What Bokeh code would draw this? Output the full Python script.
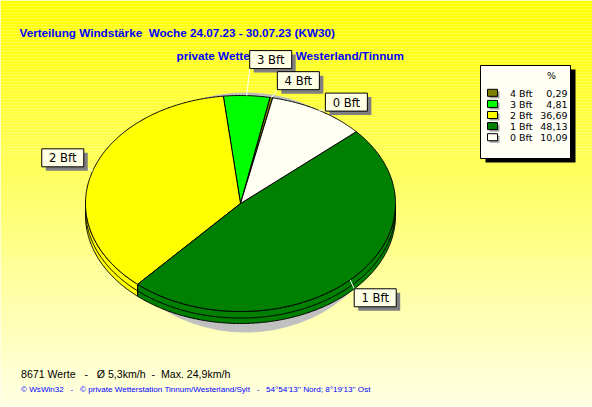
import numpy as np
from bokeh.plotting import figure
from bokeh.models import Range1d
from bokeh.core.properties import value
from bokeh.embed import file_html
from bokeh.resources import INLINE

# ---------------- data ----------------
categories = ["4 Bft", "3 Bft", "2 Bft", "1 Bft", "0 Bft"]
percent = [0.29, 4.81, 36.69, 48.13, 10.09]
percent_labels = ["0,29", "4,81", "36,69", "48,13", "10,09"]
colors = ["#808000", "#00FF00", "#FFFF00", "#008000", "#FFFFF4"]
title1 = "Verteilung Windstärke  Woche 24.07.23 - 30.07.23 (KW30)"
title2 = "private Wetterstation Westerland/Tinnum"
footer1 = "8671 Werte   -   Ø 5,3km/h  -  Max. 24,9km/h"
footer2 = "© WsWin32   -   © private Wetterstation Tinnum/Westerland/Sylt   -   54°54'13'' Nord; 8°19'13'' Ost"
legend_header = "%"


def keep_spaces(s):
    # keep runs of spaces visible in SVG text
    return s.replace("  ", "\u00a0\u00a0").replace("\u00a0 ", "\u00a0\u00a0")


# ---------------- layout ----------------
W, H = 592, 407
CX, CY = 240, 203
RX, RY = 155, 108
DEPTH = 12
START = 78.0
# label box offsets (left, top) relative to slice mid-point on the rim
label_offsets = [(6, -26), (3, -45), (-51, -22), (4, 9), (7, -17)]
BOX_W, BOX_H = 42, 18
FONT = "Liberation Sans"
LFONT = "DejaVu Sans"

p = figure(width=W, height=H, output_backend="svg", toolbar_location=None,
           x_range=Range1d(0, W), y_range=Range1d(H, 0), min_border=0)
p.axis.visible = False
p.grid.visible = False
p.outline_line_color = None
p.background_fill_color = "#FFFFE4"
p.border_fill_color = "#FFFFE4"

# background gradient (yellow -> pale yellow)
n_strip = 136
edges = np.linspace(0, H, n_strip + 1)
cols = []
for i in range(n_strip):
    yref = (edges[i] + edges[i + 1]) / 2
    b = int(round(228 * yref / 407))
    cols.append("#%02X%02X%02X" % (255, 255, b))
p.quad(left=0, right=W, top=edges[:-1], bottom=edges[1:], fill_color=cols, line_color=None)

# titles (drawn below the label boxes)
p.text(x=[19], y=[32], text=[keep_spaces(title1)], text_font=value(FONT), text_font_style="bold",
       text_font_size=value("11.7px"), text_color="#0000FF", text_baseline="alphabetic")
p.text(x=[176], y=[55], text=[keep_spaces(title2)], text_font=value(FONT), text_font_style="bold",
       text_font_size=value("11.7px"), text_color="#0000FF", text_baseline="alphabetic")


def rim(t_deg, dy=0.0):
    t = np.radians(t_deg)
    return CX + RX * np.cos(t), CY - RY * np.sin(t) + dy


# slice angles
fr = np.array(percent) / sum(percent) * 360.0
a_start = START + np.concatenate([[0], np.cumsum(fr)[:-1]])
a_end = a_start + fr

# shadow
p.ellipse(x=[245], y=[212], width=[280], height=[240],
          fill_color="#C0C0C0", line_color=None)

# sides (front half: 180..360)
sx, sy, scol = [], [], []
for a, b, c in zip(a_start, a_end, colors):
    lo, hi = max(a, 180.0), min(b, 360.0)
    if hi > lo:
        t = np.linspace(lo, hi, max(3, int((hi - lo) * 2)))
        x1, y1 = rim(t)
        x2, y2 = rim(t[::-1], DEPTH)
        sx.append(list(np.concatenate([x1, x2])))
        sy.append(list(np.concatenate([y1, y2])))
        scol.append(c)
p.patches(xs=sx, ys=sy, fill_color=scol, line_color="black", line_width=1)
# middle line on the side
t = np.linspace(180, 360, 360)
x1, y1 = rim(t, DEPTH * 0.55)
p.line(x=x1, y=y1, line_color="black", line_width=1)

# top faces
tx, ty = [], []
for a, b in zip(a_start, a_end):
    t = np.linspace(a, b, max(3, int((b - a) * 2)))
    x1, y1 = rim(t)
    tx.append([CX] + list(x1))
    ty.append([CY] + list(y1))
p.patches(xs=tx, ys=ty, fill_color=colors, line_color="black", line_width=1)

# labels with leader lines
mid = (a_start + a_end) / 2
mx, my = rim(mid)
bl = mx + np.array([o[0] for o in label_offsets])
bt = my + np.array([o[1] for o in label_offsets])
br = bl + BOX_W
bb = bt + BOX_H
ex = np.clip(mx, bl, br)
ey = np.clip(my, bt, bb)
p.segment(x0=mx, y0=my, x1=ex, y1=ey, line_color="white", line_width=1)
p.quad(left=bl + 4, right=br + 4, top=bt + 4, bottom=bb + 4, fill_color="#808080", line_color=None)
p.quad(left=bl, right=br, top=bt, bottom=bb, fill_color="#FFFFE6", line_color="black", line_width=1)
p.text(x=(bl + br) / 2, y=(bt + bb) / 2 + 0.5, text=categories, text_font=value(LFONT),
       text_font_size=value("11.6px"), text_color="black", text_align="center", text_baseline="middle")

# legend
LX0, LX1, LY0, LY1 = 480, 570, 65, 158
p.quad(left=LX0 + 5, right=LX1 + 5, top=LY0 + 4, bottom=LY1 + 4, fill_color="black", line_color=None)
p.quad(left=LX0, right=LX1, top=LY0, bottom=LY1, fill_color="#FFFFF6", line_color="black", line_width=1)
p.text(x=[551], y=[75], text=[legend_header], text_font=value(LFONT),
       text_font_size=value("9.5px"), text_color="black", text_align="center", text_baseline="middle")
rows = 92.3 + np.arange(len(categories)) * 11.1
p.quad(left=487 + 2, right=497 + 2, top=rows - 3.5 + 2, bottom=rows + 3.5 + 2,
       fill_color="#A0A0A0", line_color=None)
p.quad(left=487, right=497, top=rows - 3.5, bottom=rows + 3.5,
       fill_color=colors, line_color="black", line_width=1)
p.text(x=509.5, y=rows + 0.5, text=categories, text_font=value(LFONT),
       text_font_size=value("9.5px"), text_color="black", text_align="left", text_baseline="middle")
p.text(x=567, y=rows + 0.5, text=percent_labels, text_font=value(LFONT),
       text_font_size=value("9.5px"), text_color="black", text_align="right", text_baseline="middle")

# footers
p.text(x=[20.5], y=[373], text=[keep_spaces(footer1)], text_font=value(FONT),
       text_font_size=value("10.6px"), text_color="black", text_baseline="alphabetic")
p.text(x=[20.5], y=[388.5], text=[keep_spaces(footer2)], text_font=value(FONT),
       text_font_size=value("8.1px"), text_color="#0000FF", text_baseline="alphabetic")

open("out.html", "w").write(file_html(p, INLINE))
